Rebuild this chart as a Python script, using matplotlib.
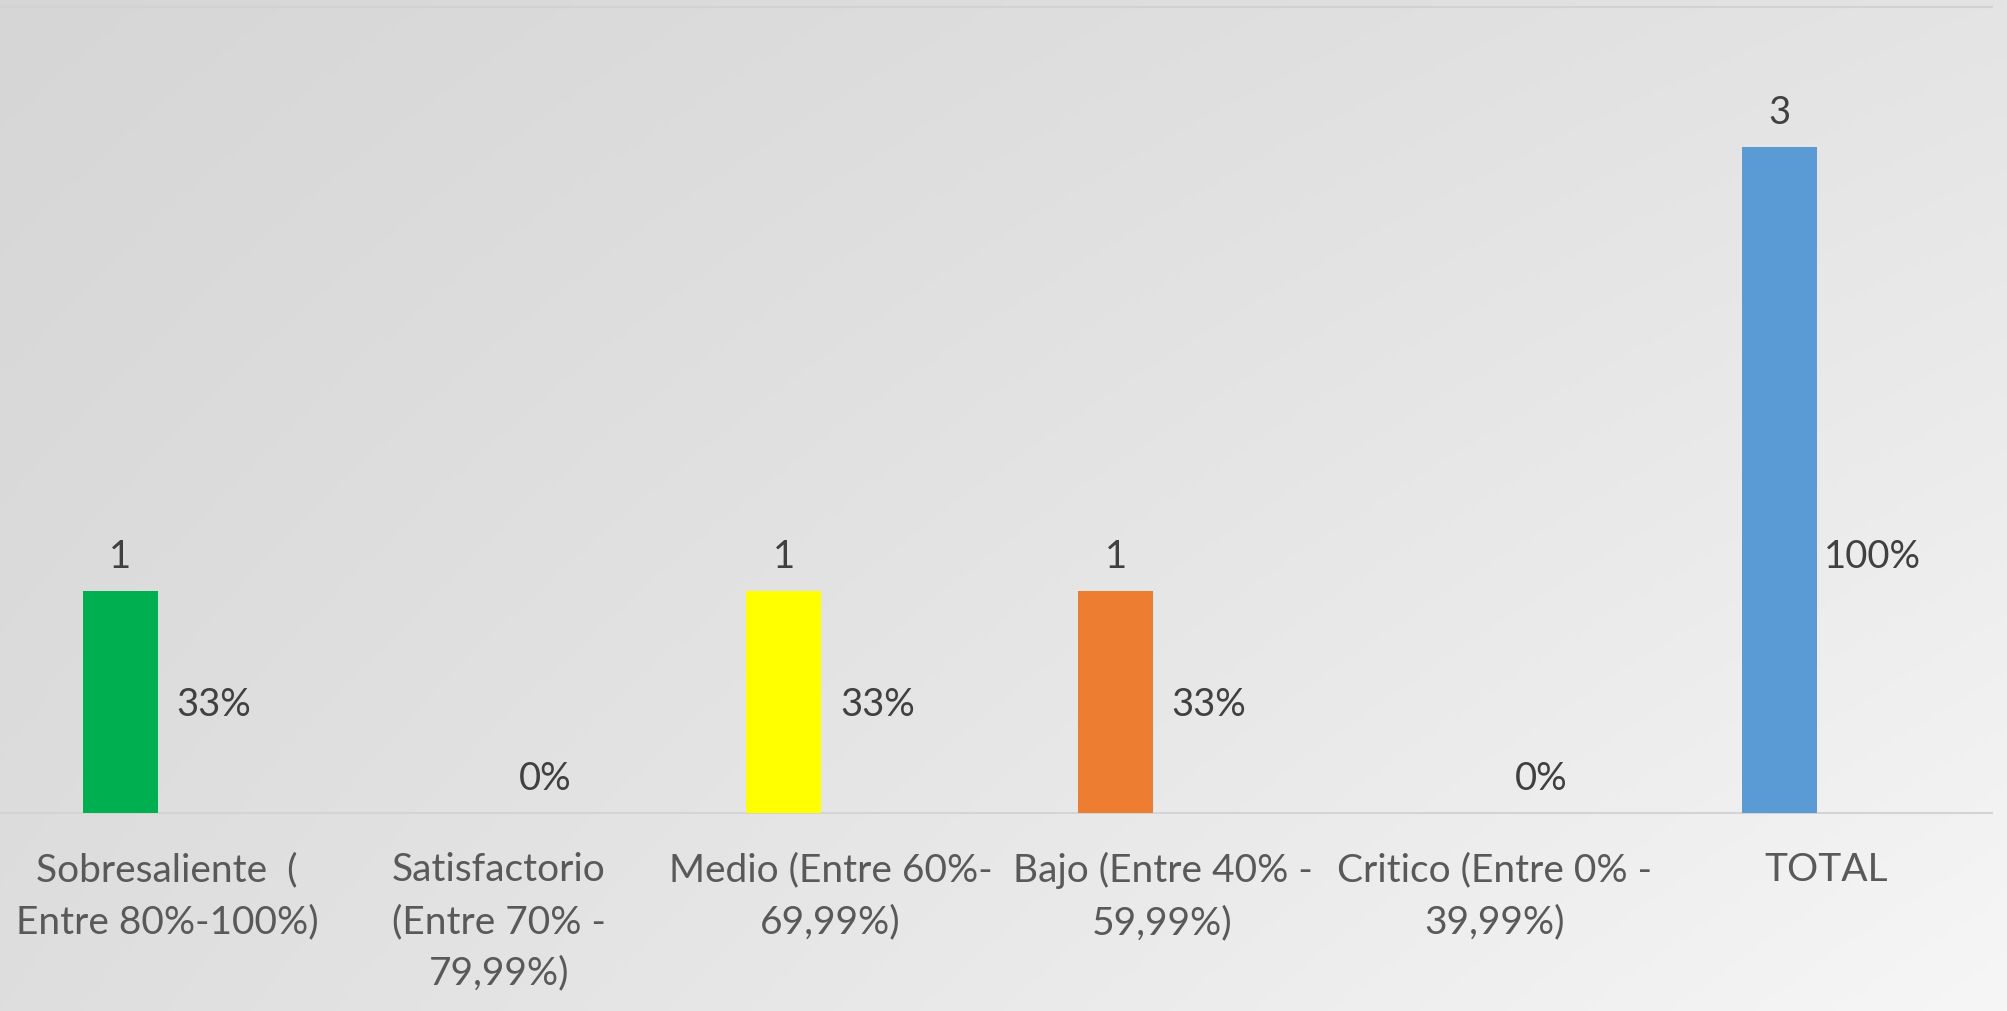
import numpy as np
import matplotlib
matplotlib.use("Agg")
import matplotlib.pyplot as plt

categories = [
    "Sobresaliente  (\nEntre 80%-100%)",
    "Satisfactorio\n(Entre 70% -\n79,99%)",
    "Medio (Entre 60%-\n69,99%)",
    "Bajo (Entre 40% -\n59,99%)",
    "Critico (Entre 0% -\n39,99%)",
    "TOTAL",
]
counts = [1, 0, 1, 1, 0, 3]
shares = [1 / 3, 0, 1 / 3, 1 / 3, 0, 1]
share_labels = ["33%", "0%", "33%", "33%", "0%", "100%"]
bar_colors = ["#00B050", "#00B050", "#FFFF00", "#ED7D31", "#5B9BD5", "#5B9BD5"]

plt.rcParams["font.family"] = ["Lato", "DejaVu Sans"]

W, H = 2008, 1011
fig = plt.figure(figsize=(W / 100, H / 100), dpi=100)

# gradient background
bg = fig.add_axes([0, 0, 1, 1], zorder=-1)
xx, yy = np.meshgrid(np.linspace(0, 1, 400), np.linspace(0, 1, 200))
grad = 214 + 14 * xx + 8 * yy + 10 * xx * yy
img = np.dstack([grad, grad, grad]) / 255.0
bg.imshow(img, aspect="auto", extent=[0, 1, 0, 1], origin="upper")
bg.set_axis_off()

ax = fig.add_axes([1 / W, (H - 813) / H, (1992 - 1) / W, (813 - 7) / H])
ax.patch.set_visible(False)

x = np.arange(len(categories))
bw = 0.226
off = 0.141
bars = ax.bar(x - off, counts, bw, color=bar_colors, zorder=3)
pbars = ax.bar(x + off, shares, bw, color="none", zorder=3)

for rect, v in zip(bars, counts):
    if v == 0:
        continue
    ax.annotate(str(v), (rect.get_x() + rect.get_width() / 2, rect.get_height()),
                xytext=(0, 23), textcoords="offset pixels",
                ha="center", va="baseline", fontsize=27.5, color="#404040")
for rect, lab in zip(pbars, share_labels):
    ax.annotate(lab, (rect.get_x() + rect.get_width() / 2, rect.get_height()),
                xytext=(0, 23), textcoords="offset pixels",
                ha="center", va="baseline", fontsize=27.5, color="#404040")

ax.set_xlim(-0.5, len(categories) - 0.5)
ax.set_ylim(0, 806 / 222)
ax.set_xticks(x)
ax.set_xticklabels(categories, fontsize=28, color="#595959", linespacing=1.55)
ax.tick_params(axis="x", length=0, pad=28)
ax.set_yticks([])
for s in ["left", "right"]:
    ax.spines[s].set_visible(False)
ax.spines["bottom"].set_color("#d4d4d4")
ax.spines["bottom"].set_linewidth(1.5)
ax.spines["top"].set_color("#d2d2d2")
ax.spines["top"].set_linewidth(1.5)

fig.savefig("out.png", dpi=100)
